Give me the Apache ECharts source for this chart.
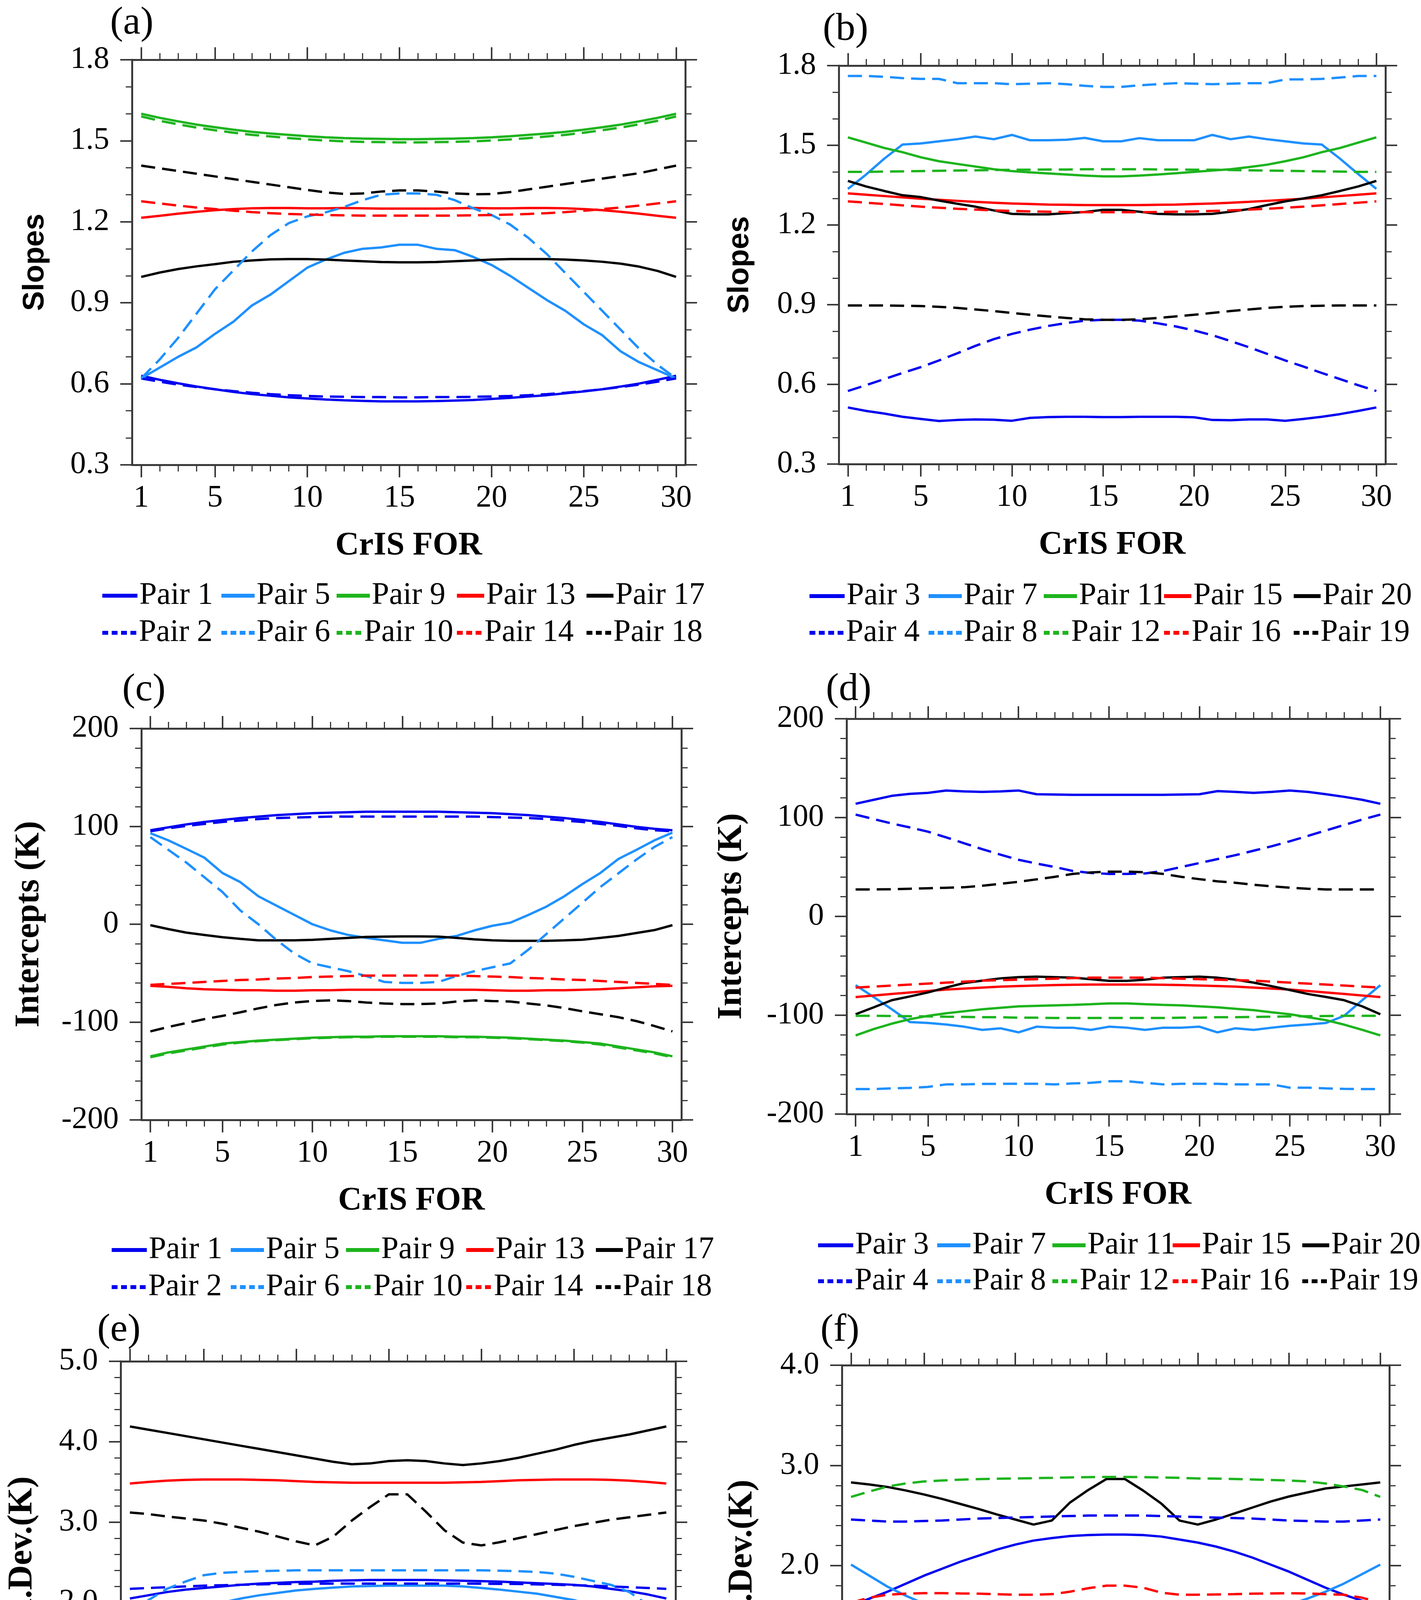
<!DOCTYPE html>
<html><head><meta charset="utf-8">
<script src="https://cdn.jsdelivr.net/npm/echarts@6/dist/echarts.min.js"></script>
<style>html,body{margin:0;padding:0;background:#fff}#chart{width:3639px;height:5000px}</style>
</head><body><div id="chart"></div>
<script>
// ---------- categories / ticks ----------
const forCategories = ['1','2','3','4','5','6','7','8','9','10','11','12','13','14','15','16','17','18','19','20','21','22','23','24','25','26','27','28','29','30'];
const forTickLabels = ['1','5','10','15','20','25','30'];

// ---------- (a) Slopes ----------
const a_pair1  = [0.630,0.615,0.602,0.590,0.580,0.570,0.562,0.556,0.550,0.546,0.542,0.539,0.537,0.535,0.535,0.535,0.536,0.538,0.540,0.544,0.548,0.553,0.558,0.565,0.572,0.580,0.590,0.601,0.615,0.630];
const a_pair2  = [0.620,0.608,0.597,0.588,0.580,0.573,0.567,0.562,0.558,0.555,0.553,0.552,0.551,0.551,0.550,0.550,0.551,0.551,0.552,0.553,0.555,0.558,0.562,0.567,0.573,0.580,0.588,0.597,0.608,0.620];
const a_pair5  = [0.62,0.66,0.70,0.735,0.785,0.83,0.89,0.93,0.98,1.03,1.06,1.085,1.10,1.105,1.115,1.115,1.10,1.095,1.07,1.04,1.00,0.955,0.91,0.87,0.82,0.78,0.72,0.68,0.65,0.62];
const a_pair6  = [0.62,0.69,0.77,0.86,0.95,1.02,1.09,1.15,1.195,1.22,1.235,1.255,1.28,1.30,1.305,1.305,1.30,1.28,1.25,1.225,1.19,1.14,1.08,1.01,0.94,0.87,0.80,0.73,0.67,0.62];
const a_pair9  = [1.600,1.585,1.572,1.560,1.550,1.541,1.533,1.527,1.522,1.517,1.513,1.510,1.508,1.507,1.506,1.506,1.507,1.508,1.510,1.513,1.517,1.522,1.527,1.533,1.541,1.550,1.560,1.572,1.585,1.600];
const a_pair10 = [1.590,1.574,1.561,1.549,1.539,1.530,1.522,1.516,1.510,1.505,1.501,1.498,1.496,1.495,1.494,1.494,1.495,1.496,1.498,1.501,1.505,1.510,1.516,1.522,1.530,1.539,1.549,1.561,1.574,1.590];
const a_pair13 = [1.215,1.222,1.230,1.237,1.243,1.247,1.250,1.251,1.251,1.250,1.250,1.251,1.250,1.249,1.249,1.249,1.249,1.250,1.251,1.250,1.250,1.251,1.251,1.250,1.247,1.243,1.237,1.230,1.222,1.215];
const a_pair14 = [1.276,1.268,1.260,1.253,1.247,1.241,1.236,1.232,1.229,1.227,1.225,1.224,1.223,1.223,1.223,1.223,1.223,1.223,1.224,1.225,1.227,1.229,1.232,1.236,1.241,1.247,1.253,1.260,1.268,1.276];
const a_pair17 = [0.996,1.012,1.025,1.035,1.043,1.052,1.057,1.061,1.062,1.062,1.060,1.057,1.054,1.051,1.050,1.050,1.051,1.054,1.057,1.060,1.062,1.062,1.062,1.060,1.057,1.052,1.045,1.034,1.018,0.996];
const a_pair18 = [1.408,1.398,1.388,1.378,1.368,1.358,1.348,1.338,1.328,1.318,1.309,1.303,1.305,1.312,1.316,1.316,1.312,1.305,1.302,1.303,1.310,1.320,1.330,1.340,1.350,1.360,1.370,1.380,1.394,1.408];

// ---------- (b) Slopes ----------
const b_pair3  = [0.513,0.500,0.490,0.478,0.470,0.462,0.466,0.468,0.467,0.463,0.474,0.477,0.478,0.478,0.477,0.477,0.478,0.478,0.478,0.476,0.466,0.465,0.468,0.468,0.463,0.470,0.478,0.488,0.500,0.513];
const b_pair4  = [0.575,0.597,0.620,0.643,0.665,0.690,0.717,0.745,0.770,0.790,0.806,0.820,0.831,0.840,0.843,0.843,0.840,0.830,0.818,0.803,0.785,0.763,0.740,0.715,0.690,0.667,0.643,0.620,0.597,0.575];
const b_pair7  = [1.336,1.390,1.450,1.503,1.507,1.515,1.523,1.533,1.523,1.539,1.519,1.519,1.521,1.528,1.515,1.515,1.527,1.519,1.519,1.519,1.539,1.523,1.533,1.523,1.515,1.507,1.503,1.450,1.392,1.336];
const b_pair8  = [1.761,1.761,1.758,1.753,1.750,1.750,1.734,1.734,1.734,1.730,1.732,1.734,1.730,1.724,1.720,1.720,1.726,1.730,1.734,1.732,1.730,1.732,1.734,1.734,1.748,1.748,1.750,1.755,1.761,1.761];
const b_pair11 = [1.530,1.510,1.490,1.474,1.455,1.440,1.430,1.420,1.410,1.403,1.398,1.394,1.390,1.386,1.383,1.383,1.386,1.390,1.395,1.400,1.405,1.410,1.418,1.427,1.440,1.455,1.474,1.490,1.510,1.530];
const b_pair12 = [1.400,1.400,1.401,1.402,1.403,1.404,1.405,1.406,1.407,1.408,1.408,1.409,1.409,1.410,1.410,1.410,1.410,1.409,1.409,1.408,1.408,1.407,1.406,1.405,1.404,1.403,1.402,1.401,1.400,1.400];
const b_pair15 = [1.319,1.314,1.309,1.304,1.299,1.295,1.291,1.287,1.284,1.281,1.279,1.277,1.276,1.275,1.275,1.275,1.275,1.276,1.277,1.279,1.281,1.284,1.287,1.291,1.295,1.299,1.304,1.309,1.314,1.319];
const b_pair16 = [1.289,1.284,1.279,1.274,1.269,1.265,1.261,1.258,1.255,1.253,1.251,1.250,1.249,1.248,1.248,1.248,1.248,1.249,1.250,1.251,1.253,1.255,1.258,1.261,1.265,1.269,1.274,1.279,1.284,1.289];
const b_pair19 = [0.897,0.897,0.897,0.896,0.895,0.892,0.888,0.882,0.876,0.869,0.862,0.856,0.850,0.845,0.843,0.843,0.845,0.850,0.856,0.862,0.869,0.876,0.882,0.888,0.892,0.895,0.896,0.897,0.897,0.897];
const b_pair20 = [1.366,1.345,1.328,1.312,1.305,1.292,1.280,1.269,1.255,1.242,1.240,1.240,1.245,1.249,1.257,1.257,1.250,1.242,1.240,1.240,1.242,1.250,1.260,1.275,1.289,1.300,1.312,1.328,1.345,1.366];

// ---------- (c) Intercepts ----------
const c_pair1  = [96,99,102,104.5,106.5,108.5,110,111.5,112.5,113.5,114,114.5,115,115,115,115,115,114.5,114,113.5,112.5,111.5,110,108.5,106.5,104.5,102,99.5,97.5,96];
const c_pair2  = [95,98,100.5,102.5,104.5,106,107.5,108.5,109,109.5,110,110,110,110,110,110,110,110,110,109.5,109,108.5,107.5,106,104.5,102.5,100.5,98,96,95];
const c_pair5  = [93,85.7,77,68,52.4,43,28.6,19,9.5,0,-6.3,-11,-14,-16.5,-19,-19,-15,-12,-6.3,-1.6,1.6,9.5,18,28.6,41,52.4,66.7,76,85.7,93.6];
const c_pair6  = [89,76,63,48,33,14,0,-16,-30,-40,-44,-48,-53,-59,-60,-60,-59,-53,-48,-44,-40,-26,-10,6,22,38,52,66,79,89];
const c_pair9  = [-135,-131,-128,-125,-122,-120.5,-119,-118,-117,-116,-115.5,-115,-115,-114.5,-114.5,-114.5,-114.5,-115,-115,-115.5,-116,-117,-118,-119,-120.5,-122,-125,-128,-131,-135];
const c_pair10 = [-136,-132,-129,-126,-123,-121,-119.5,-118.5,-117.5,-116.5,-116,-115.5,-115.5,-115,-115,-115,-115,-115.5,-115.5,-116,-116.5,-117.5,-118.5,-119.5,-121,-123,-126,-129,-132,-136];
const c_pair13 = [-63,-64,-65.5,-66.5,-67,-67.5,-67.5,-68,-68,-67.5,-67.5,-67,-67,-67,-67,-67,-67,-67,-67,-67.5,-68,-68,-67.5,-67.5,-67,-66.5,-65.5,-64.5,-63.5,-63];
const c_pair14 = [-62,-61,-60,-59,-58,-57,-56.5,-55.5,-55,-54,-53.5,-53,-52.5,-52.5,-52.5,-52.5,-52.5,-52.5,-53,-53.5,-54,-55,-55.5,-56.5,-57,-58,-59,-60,-61,-62];
const c_pair17 = [-1,-5,-8.6,-11,-13.3,-15,-16.5,-16.5,-16.5,-16,-15,-14,-13,-12.7,-12.5,-12.5,-12.7,-14,-15.5,-16.5,-17,-17,-17,-16.5,-15.9,-14,-12,-9,-6,-1];
const c_pair18 = [-109.5,-105,-101,-97,-93.7,-90,-86,-82.5,-80,-78.5,-77.8,-78.5,-80,-81,-81.6,-81.6,-81,-79,-77.8,-78.5,-79,-81,-83,-85.7,-89,-92,-95,-99,-104,-109.5];

// ---------- (d) Intercepts ----------
const d_pair3  = [114,118,122,124,125,127.4,126.5,126,126.5,127.4,123.6,123.3,123,123,123,123,123,123,123.3,123.6,126.8,126,125,126,127.4,126,123.6,121,118,114];
const d_pair4  = [103,98.5,94,90,85.7,80,74,68,62.5,57.3,53.5,50,46,44,43,43,43.5,46,50,54,58,62,66.5,71,76,81.5,87,92.5,98,103];
const d_pair7  = [-69.6,-81.6,-94,-106.9,-107.8,-109.4,-111.6,-114.8,-113.2,-117.3,-111.6,-112.6,-112.6,-114.8,-111.6,-112.6,-114.8,-112.6,-112.6,-111.6,-117.3,-113.2,-114.8,-112.6,-110.7,-109.4,-107.8,-100.6,-84.8,-69.6];
const d_pair8  = [-174.7,-174.7,-174,-173.5,-172.5,-170,-170,-169.5,-169.4,-169.4,-169.4,-170,-169,-168.4,-166.8,-166.8,-168.4,-170,-169.4,-169.4,-169.4,-170,-170,-170,-173.3,-173.3,-174,-174.5,-174.7,-174.7];
const d_pair11 = [-120.4,-114,-108.5,-104,-100.6,-98,-96,-94,-92.5,-91,-90.5,-90,-89.5,-88.8,-88,-88,-88.8,-89.5,-90,-91,-92,-93.5,-94.9,-97,-99,-102,-105,-109.5,-114.8,-120.4];
const d_pair12 = [-100.6,-100.6,-100.8,-101,-101.2,-101.5,-101.7,-102,-102,-102.5,-102.5,-102.8,-102.8,-102.8,-102.8,-102.8,-102.8,-102.8,-102.5,-102.5,-102,-102,-101.7,-101.5,-101.2,-101,-100.8,-100.6,-100.6,-100.6];
const d_pair15 = [-81.6,-80,-78.5,-77,-75.5,-74,-73,-72,-71,-70.5,-70,-69.5,-69.2,-69,-69,-69,-69,-69.2,-69.5,-70,-70.5,-71,-72,-73,-74,-75.5,-77,-78.5,-80,-81.6];
const d_pair16 = [-72,-71,-70,-69,-68,-67,-66,-65,-64.5,-64,-63.5,-63,-62.5,-62,-62,-62,-62,-62.5,-63,-63.5,-64,-64.5,-65,-66,-67,-68,-69,-70,-71,-72];
const d_pair19 = [27.3,27.3,27.5,28,28.5,29,29.5,31,33,35,37.5,40,43,44.5,45.3,45.3,44.7,43,40,37.7,35.5,34,32,30.5,29,28,27.3,27.3,27.3,27.3];
const d_pair20 = [-99,-92,-84.8,-81,-76.9,-72,-67.4,-65,-62.7,-61.5,-61,-61.5,-62,-63.5,-65.2,-65.2,-64,-62,-61.5,-61,-62,-64,-67,-70.6,-74.5,-78.5,-81.5,-84.8,-91,-99];

// ---------- (e) Std. Dev. ----------
const e_pair1  = [2.05,2.09,2.13,2.16,2.18,2.20,2.22,2.235,2.245,2.255,2.26,2.27,2.275,2.28,2.28,2.28,2.28,2.275,2.27,2.265,2.26,2.25,2.24,2.23,2.22,2.20,2.17,2.14,2.10,2.05];
const e_pair2  = [2.17,2.18,2.19,2.20,2.21,2.215,2.22,2.225,2.23,2.232,2.234,2.235,2.235,2.235,2.235,2.235,2.235,2.235,2.235,2.234,2.232,2.23,2.225,2.22,2.215,2.21,2.20,2.19,2.18,2.17];
const e_pair5  = [1.605,1.70,1.78,1.86,1.93,2.00,2.05,2.09,2.12,2.15,2.17,2.185,2.20,2.205,2.21,2.21,2.21,2.21,2.20,2.18,2.16,2.135,2.11,2.07,2.03,1.97,1.89,1.81,1.72,1.605];
const e_pair6  = [1.825,2.03,2.17,2.26,2.34,2.37,2.38,2.39,2.395,2.40,2.40,2.40,2.40,2.40,2.40,2.40,2.40,2.40,2.40,2.40,2.395,2.39,2.38,2.36,2.32,2.27,2.22,2.13,1.97,1.825];
const e_pair9  = [1.14,1.08,1.04,1.02,1.00,1.00,0.995,0.995,0.995,0.995,0.995,0.995,0.995,0.995,0.995,0.995,0.995,0.995,0.995,0.995,0.995,0.995,0.995,0.995,0.995,1.00,1.01,1.03,1.08,1.14];
const e_pair10 = [0.97,0.98,0.99,1.00,1.00,1.01,1.01,1.015,1.02,1.02,1.025,1.025,1.03,1.03,1.035,1.035,1.03,1.03,1.025,1.025,1.02,1.02,1.015,1.01,1.01,1.00,1.00,0.99,0.98,0.97];
const e_pair13 = [3.48,3.50,3.515,3.525,3.53,3.53,3.53,3.525,3.52,3.51,3.50,3.495,3.49,3.49,3.49,3.49,3.49,3.49,3.495,3.50,3.51,3.52,3.525,3.53,3.53,3.53,3.525,3.515,3.50,3.48];
const e_pair14 = [0.95,1.00,1.04,1.045,1.05,1.06,1.065,1.07,1.072,1.075,1.08,1.09,1.10,1.12,1.14,1.14,1.12,1.08,1.075,1.075,1.07,1.07,1.065,1.065,1.06,1.05,1.04,1.02,0.99,0.95];
const e_pair17 = [4.19,4.15,4.11,4.07,4.03,3.99,3.95,3.91,3.87,3.83,3.79,3.75,3.72,3.73,3.76,3.77,3.76,3.73,3.71,3.73,3.76,3.80,3.85,3.90,3.96,4.01,4.05,4.09,4.14,4.19];
const e_pair18 = [3.12,3.10,3.07,3.045,3.02,2.98,2.93,2.88,2.82,2.76,2.71,2.82,3.02,3.19,3.345,3.345,3.13,2.90,2.745,2.71,2.75,2.80,2.85,2.90,2.95,2.99,3.03,3.06,3.09,3.12];

// ---------- (f) Std. Dev. ----------
const f_pair3  = [1.597,1.67,1.74,1.82,1.90,1.97,2.04,2.10,2.16,2.21,2.25,2.275,2.295,2.305,2.31,2.31,2.305,2.29,2.26,2.23,2.19,2.14,2.08,2.01,1.94,1.86,1.78,1.71,1.65,1.597];
const f_pair4  = [2.46,2.45,2.44,2.44,2.445,2.45,2.46,2.47,2.475,2.48,2.485,2.49,2.495,2.50,2.50,2.50,2.50,2.495,2.49,2.485,2.48,2.475,2.47,2.46,2.45,2.445,2.44,2.44,2.45,2.46];
const f_pair7  = [2.01,1.90,1.79,1.70,1.62,1.56,1.51,1.47,1.43,1.405,1.385,1.37,1.36,1.355,1.355,1.355,1.36,1.37,1.385,1.405,1.43,1.465,1.50,1.55,1.61,1.67,1.74,1.82,1.915,2.01];
const f_pair8  = [1.416,1.33,1.26,1.22,1.19,1.165,1.15,1.14,1.137,1.135,1.133,1.132,1.13,1.13,1.13,1.13,1.13,1.13,1.132,1.135,1.138,1.142,1.15,1.165,1.19,1.23,1.27,1.31,1.36,1.416];
const f_pair11 = [0.955,0.93,0.91,0.905,0.91,0.915,0.92,0.925,0.928,0.93,0.935,0.94,0.945,0.95,0.955,0.955,0.95,0.948,0.945,0.94,0.935,0.93,0.925,0.92,0.915,0.91,0.905,0.905,0.92,0.955];
const f_pair12 = [2.686,2.74,2.79,2.82,2.84,2.85,2.858,2.864,2.867,2.87,2.873,2.876,2.88,2.883,2.885,2.885,2.883,2.88,2.876,2.87,2.868,2.865,2.86,2.855,2.85,2.84,2.82,2.79,2.755,2.686];
const f_pair15 = [1.40,1.42,1.435,1.445,1.45,1.45,1.445,1.44,1.43,1.42,1.415,1.415,1.43,1.45,1.46,1.46,1.45,1.43,1.42,1.42,1.425,1.43,1.44,1.445,1.45,1.45,1.445,1.435,1.42,1.40];
const f_pair16 = [1.63,1.68,1.71,1.72,1.725,1.725,1.722,1.72,1.715,1.71,1.71,1.715,1.74,1.775,1.80,1.80,1.78,1.73,1.71,1.71,1.712,1.715,1.72,1.722,1.725,1.722,1.715,1.71,1.68,1.63];
const f_pair19 = [1.276,1.29,1.30,1.29,1.26,1.22,1.17,1.10,1.03,0.92,0.83,0.83,0.92,1.07,1.205,1.205,1.03,0.92,0.86,0.825,0.92,1.04,1.12,1.20,1.23,1.26,1.28,1.29,1.285,1.276];
const f_pair20 = [2.83,2.81,2.785,2.75,2.71,2.665,2.615,2.565,2.51,2.46,2.41,2.45,2.63,2.755,2.865,2.865,2.75,2.62,2.45,2.41,2.46,2.52,2.58,2.64,2.69,2.73,2.77,2.79,2.81,2.83];

// ---------- styles ----------
const SERIF = "'Liberation Serif','DejaVu Serif',serif";
const SANS = "'Liberation Sans','DejaVu Sans',sans-serif";
const COLORS = {blue:'#0000f0', sky:'#1e90ff', green:'#1db41d', red:'#ff0000', black:'#000000'};
const AXIS_COLOR = '#3a3a3a';

const PANELS = [
  {id:'a', yName:'Slopes', nameFont:SANS, nameSize:76, yMin:0.3, yMax:1.8, yStep:0.3, minor:3, dec:1,
   lines:[['Pair 1',a_pair1,'blue'],['Pair 5',a_pair5,'sky'],['Pair 9',a_pair9,'green'],['Pair 13',a_pair13,'red'],['Pair 17',a_pair17,'black']],
   dashed:[['Pair 2',a_pair2,'blue'],['Pair 6',a_pair6,'sky'],['Pair 10',a_pair10,'green'],['Pair 14',a_pair14,'red'],['Pair 18',a_pair18,'black']]},
  {id:'b', yName:'Slopes', nameFont:SANS, nameSize:76, yMin:0.3, yMax:1.8, yStep:0.3, minor:3, dec:1,
   lines:[['Pair 3',b_pair3,'blue'],['Pair 7',b_pair7,'sky'],['Pair 11',b_pair11,'green'],['Pair 15',b_pair15,'red'],['Pair 20',b_pair20,'black']],
   dashed:[['Pair 4',b_pair4,'blue'],['Pair 8',b_pair8,'sky'],['Pair 12',b_pair12,'green'],['Pair 16',b_pair16,'red'],['Pair 19',b_pair19,'black']]},
  {id:'c', yName:'Intercepts (K)', nameFont:SERIF, nameSize:88, yMin:-200, yMax:200, yStep:100, minor:5, dec:0,
   lines:[['Pair 1',c_pair1,'blue'],['Pair 5',c_pair5,'sky'],['Pair 9',c_pair9,'green'],['Pair 13',c_pair13,'red'],['Pair 17',c_pair17,'black']],
   dashed:[['Pair 2',c_pair2,'blue'],['Pair 6',c_pair6,'sky'],['Pair 10',c_pair10,'green'],['Pair 14',c_pair14,'red'],['Pair 18',c_pair18,'black']]},
  {id:'d', yName:'Intercepts (K)', nameFont:SERIF, nameSize:88, yMin:-200, yMax:200, yStep:100, minor:5, dec:0,
   lines:[['Pair 3',d_pair3,'blue'],['Pair 7',d_pair7,'sky'],['Pair 11',d_pair11,'green'],['Pair 15',d_pair15,'red'],['Pair 20',d_pair20,'black']],
   dashed:[['Pair 4',d_pair4,'blue'],['Pair 8',d_pair8,'sky'],['Pair 12',d_pair12,'green'],['Pair 16',d_pair16,'red'],['Pair 19',d_pair19,'black']]},
  {id:'e', yName:'Std.Dev.(K)', nameFont:SERIF, nameSize:88, yMin:0, yMax:5, yStep:1, minor:5, dec:1,
   lines:[['Pair 1',e_pair1,'blue'],['Pair 5',e_pair5,'sky'],['Pair 9',e_pair9,'green'],['Pair 13',e_pair13,'red'],['Pair 17',e_pair17,'black']],
   dashed:[['Pair 2',e_pair2,'blue'],['Pair 6',e_pair6,'sky'],['Pair 10',e_pair10,'green'],['Pair 14',e_pair14,'red'],['Pair 18',e_pair18,'black']]},
  {id:'f', yName:'Std.Dev.(K)', nameFont:SERIF, nameSize:88, yMin:0, yMax:4, yStep:1, minor:5, dec:1,
   lines:[['Pair 3',f_pair3,'blue'],['Pair 7',f_pair7,'sky'],['Pair 11',f_pair11,'green'],['Pair 15',f_pair15,'red'],['Pair 20',f_pair20,'black']],
   dashed:[['Pair 4',f_pair4,'blue'],['Pair 8',f_pair8,'sky'],['Pair 12',f_pair12,'green'],['Pair 16',f_pair16,'red'],['Pair 19',f_pair19,'black']]}
];

// layout (pixels): grid [left, top, width, height], title [left, top], legend [x, row1 centre, row2 centre], y name gap
const LAYOUT = {
  a:{grid:[338,153,1417,1037], title:[282,10],   legend:[262,1525,1620],  yNameGap:210},
  b:{grid:[2148,168,1400,1020],title:[2107,26],  legend:[2073,1526,1620], yNameGap:215},
  c:{grid:[362,1865,1383,1002],title:[313,1717], legend:[286,3200,3295],  yNameGap:243},
  d:{grid:[2168,1840,1390,1012],title:[2115,1716],legend:[2095,3188,3280],yNameGap:250},
  e:{grid:[309,3485,1421,1029],title:[249,3356], legend:[236,4848,4942],  yNameGap:208},
  f:{grid:[2156,3495,1402,1026],title:[2101,3357],legend:[2082,4861,4955],yNameGap:211}
};
const LEG_COL = [0,305,600,908,1240];
const LEG_W = [[90,85,85,70,69],[90,85,67,68,64]];

function dashIcon(len){
  let d='';
  for(let x=0; x+15<=len+2; x+=24) d+='M'+x+',0h15v10h-15z';
  return 'path://'+d;
}
const majorFn = (idx, val) => forTickLabels.indexOf(String(val)) >= 0;
const AXLINE = {show:true, onZero:false, lineStyle:{color:AXIS_COLOR, width:5}};
const TICK = {color:AXIS_COLOR, width:4};

const option = {animation:false, backgroundColor:'#ffffff', title:[], grid:[], xAxis:[], yAxis:[], series:[], legend:[]};

PANELS.forEach((p, gi) => {
  const lay = LAYOUT[p.id];
  option.grid.push({left:lay.grid[0], top:lay.grid[1], width:lay.grid[2], height:lay.grid[3], containLabel:false});
  option.title.push({text:'('+p.id+')', left:lay.title[0], top:lay.title[1], padding:0,
    textStyle:{fontFamily:SERIF, fontSize:100, fontWeight:'normal', color:'#000'}});
  const xb = {type:'category', data:forCategories, gridIndex:gi, boundaryGap:true, splitLine:{show:false}};
  option.xAxis.push(Object.assign({}, xb, {position:'bottom', axisLine:AXLINE,
    axisTick:{show:true, alignWithLabel:true, interval:majorFn, length:32, lineStyle:TICK},
    axisLabel:{show:true, interval:majorFn, margin:46, fontSize:80, fontFamily:SERIF, color:'#000'},
    name:'CrIS FOR', nameLocation:'middle', nameGap:166,
    nameTextStyle:{fontFamily:SERIF, fontSize:84, fontWeight:'bold', color:'#000'}}));
  option.xAxis.push(Object.assign({}, xb, {position:'bottom', axisLine:{show:false, onZero:false},
    axisTick:{show:true, alignWithLabel:true, interval:0, length:17, lineStyle:{color:AXIS_COLOR, width:3}},
    axisLabel:{show:false}}));
  option.xAxis.push(Object.assign({}, xb, {position:'top', axisLine:AXLINE,
    axisTick:{show:true, alignWithLabel:true, interval:majorFn, length:32, lineStyle:TICK},
    axisLabel:{show:false}}));
  option.xAxis.push(Object.assign({}, xb, {position:'top', axisLine:{show:false, onZero:false},
    axisTick:{show:true, alignWithLabel:true, interval:0, length:17, lineStyle:{color:AXIS_COLOR, width:3}},
    axisLabel:{show:false}}));

  const yb = {type:'value', gridIndex:gi, min:p.yMin, max:p.yMax, interval:p.yStep,
    axisLine:AXLINE, axisTick:{show:true, length:30, lineStyle:TICK},
    minorTick:{show:true, splitNumber:p.minor, length:16, lineStyle:{color:AXIS_COLOR, width:3}},
    splitLine:{show:false}, minorSplitLine:{show:false}};
  option.yAxis.push(Object.assign({}, yb, {position:'left',
    axisLabel:{show:true, margin:58, fontSize:80, fontFamily:SERIF, color:'#000',
      formatter:(v) => Number(v).toFixed(p.dec)},
    name:p.yName, nameLocation:'middle', nameRotate:90, nameGap:lay.yNameGap,
    nameTextStyle:{fontFamily:p.nameFont, fontSize:p.nameSize, fontWeight:'bold', color:'#000'}}));
  option.yAxis.push(Object.assign({}, yb, {position:'right', axisLabel:{show:false}}));

  [[p.lines,false],[p.dashed,true]].forEach(([group, dashed], row) => {
    group.forEach((s, col) => {
      const color = COLORS[s[2]];
      option.series.push({type:'line', name:s[0], data:s[1], xAxisIndex:4*gi, yAxisIndex:2*gi,
        symbol:'none', showSymbol:false, smooth:false, silent:true,
        lineStyle:{color:color, width:6, type: dashed ? [36,18] : 'solid'},
        itemStyle:{color:color}, emphasis:{disabled:true}});
      const w = LEG_W[row][col];
      option.legend.push({selectedMode:false, left:lay.legend[0] + LEG_COL[col],
        top:lay.legend[1+row] - 40, padding:0, orient:'horizontal',
        itemWidth:w, itemHeight:10, icon: dashed ? dashIcon(w) : 'rect',
        itemStyle:{color:color, borderWidth:0},
        data:[s[0]],
        textStyle:{fontFamily:SERIF, fontSize:80, color:'#000'}});
    });
  });
});

const chart = echarts.init(document.getElementById('chart'), null, {renderer:'canvas', width:3639, height:5000});
chart.setOption(option);
</script>
</body></html>
